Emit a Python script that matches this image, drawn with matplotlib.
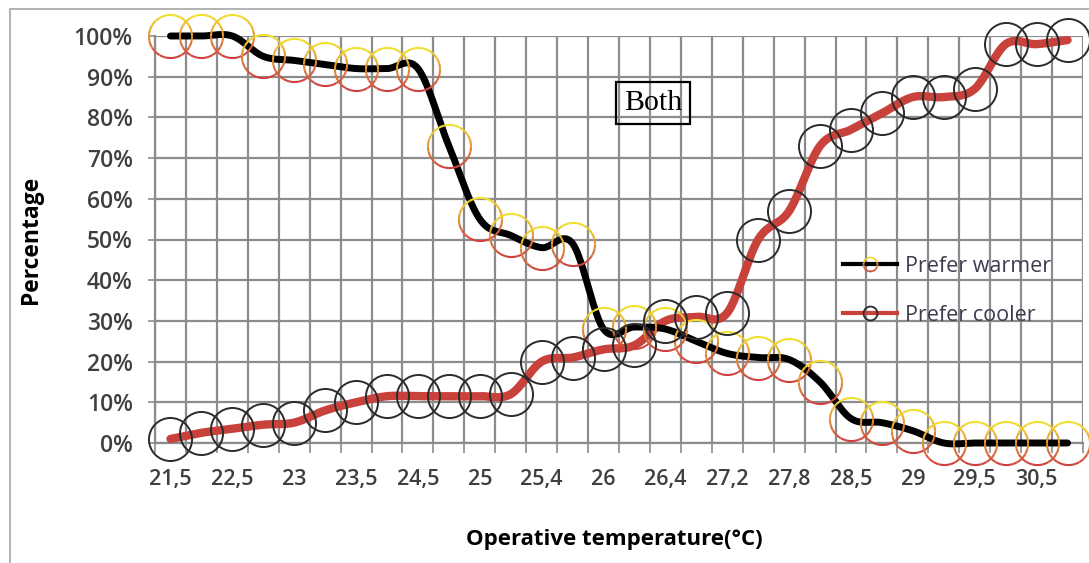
import numpy as np
import matplotlib
matplotlib.use("Agg")
import matplotlib.pyplot as plt
from matplotlib.path import Path
from matplotlib.lines import Line2D
from matplotlib.patches import Rectangle
from matplotlib.colors import to_rgb
from matplotlib.legend_handler import HandlerTuple

# temperature labels shown under every second category
tick_labels = ["21,5", "22,5", "23", "23,5", "24,5", "25", "25,4", "26",
               "26,4", "27,2", "27,8", "28,5", "29", "29,5", "30,5"]
n_cat = 30

# share of occupants (%) per temperature step
prefer_warmer = [100, 100, 100, 95, 94, 93, 92, 92, 92, 73,
                 55, 51, 48, 49, 28, 28.5, 28, 25, 22, 21,
                 20.5, 15, 6, 5, 3, 0, 0, 0, 0, 0]
prefer_cooler = [1, 2.5, 3.5, 4.5, 5, 8, 10, 11.5, 11.5, 11.5,
                 11.5, 12, 20, 21, 23, 24, 30, 31, 32, 50,
                 57, 73, 77, 81, 85, 85, 87, 98, 98, 99]

RED = "#c9413b"
GRID = "#8c8c8c"
TXT = "#3f3f3f"
plt.rcParams["font.family"] = ["Open Sans", "DejaVu Sans"]


def smooth(x, y, n=24):
    # bezier smoothing like a spreadsheet "smoothed line"
    pts = np.column_stack([x, y]).astype(float)
    P = np.vstack([pts[0], pts, pts[-1]])
    t = np.linspace(0, 1, n, endpoint=False)[:, None]
    segs = []
    for i in range(len(pts) - 1):
        p0, p1, p2, p3 = P[i], P[i + 1], P[i + 2], P[i + 3]
        c1 = p1 + (p2 - p0) / 6
        c2 = p2 - (p3 - p1) / 6
        segs.append((1 - t) ** 3 * p1 + 3 * (1 - t) ** 2 * t * c1
                    + 3 * (1 - t) * t ** 2 * c2 + t ** 3 * p2)
    segs.append(pts[-1:])
    out = np.vstack(segs)
    return out[:, 0], out[:, 1]


def ring_band(a0, a1):
    # right arc a0..a1 (deg) plus its mirror on the left side
    a = np.radians(np.linspace(a0, a1, 12))
    right = np.column_stack([np.cos(a), np.sin(a)])
    left = np.column_stack([-np.cos(a), np.sin(a)])
    verts = np.vstack([[1.0, 0.0], right, left])
    codes = ([Path.MOVETO] + [Path.MOVETO] + [Path.LINETO] * 11
             + [Path.MOVETO] + [Path.LINETO] * 11)
    return Path(verts, codes)


# yellow-to-red ring split into horizontal bands
yellow = np.array(to_rgb("#f2e12e"))
red = np.array(to_rgb("#cf3f3f"))
edges = np.linspace(-90, 90, 13)
bands = []
for a0, a1 in zip(edges[:-1], edges[1:]):
    h = (np.sin(np.radians((a0 + a1) / 2)) + 1) / 2
    bands.append((ring_band(a0, a1), tuple(red + (yellow - red) * h)))

fig = plt.figure(figsize=(10.89, 5.63), dpi=100)
ax = fig.add_axes([155 / 1089, 1 - 443 / 563, (1083 - 155) / 1089, (443 - 36) / 563])

x = np.arange(n_cat)
yw = np.array(prefer_warmer) / 100
yc = np.array(prefer_cooler) / 100

sx, sy = smooth(x, yc)
ax.plot(sx, sy, color=RED, lw=6, solid_capstyle="round", zorder=3, clip_on=False)
sx, sy = smooth(x, yw)
ax.plot(sx, sy, color="black", lw=5, solid_capstyle="round", zorder=4, clip_on=False)

MS = 31
for path, col in bands:
    ax.plot(x, yw, ls="none", marker=path, ms=MS, mec=col, mfc="none", mew=1.5,
            zorder=5, clip_on=False)
ax.plot(x, yc, ls="none", marker="o", ms=MS, mec="#2b2b2b", mfc="none", mew=1.4,
        zorder=6, clip_on=False)

ax.set_xlim(-0.5, n_cat - 0.5)
ax.set_ylim(0, 1)
ax.set_yticks(np.arange(0, 1.01, 0.1))
ax.set_yticklabels([f"{int(round(v * 100))}%" for v in np.arange(0, 1.01, 0.1)])
ax.set_xticks(np.arange(0, n_cat, 2))
ax.set_xticklabels(tick_labels)
ax.set_xticks(np.arange(-0.5, n_cat, 1), minor=True)

ax.grid(True, which="minor", axis="x", color=GRID, lw=1.6)
ax.grid(True, which="major", axis="y", color=GRID, lw=1.6)
ax.set_axisbelow(True)
for s in ax.spines.values():
    s.set_visible(False)
for side in ("left", "bottom"):
    ax.spines[side].set_visible(True)
    ax.spines[side].set_color(GRID)
    ax.spines[side].set_linewidth(1.6)

ax.tick_params(axis="y", length=5, width=1.2, color=GRID, pad=11,
               labelsize=16.5, labelcolor=TXT)
ax.tick_params(axis="x", which="major", length=0, pad=19,
               labelsize=15.5, labelcolor=TXT)
ax.tick_params(axis="x", which="minor", length=7, width=1.2, color=GRID)
for lab in ax.get_xticklabels() + ax.get_yticklabels():
    lab.set_fontweight("semibold")

fig.text(31 / 1089, 1 - 240 / 563, "Percentage", rotation=90, ha="center",
         va="center", fontsize=16.5, fontweight="bold", color="black")
fig.text(614 / 1089, 1 - 539 / 563, "Operative temperature(°C)", ha="center",
         va="center", fontsize=16, fontweight="bold", color="black")

fig.text(653 / 1089, 1 - 103 / 563, "Both", ha="center", va="center",
         fontsize=21.5, family=["Liberation Serif", "DejaVu Serif"], color="black",
         bbox=dict(boxstyle="square,pad=0.28", fc="none", ec="black", lw=1.6))

# legend with small versions of the markers
warm_parts = [Line2D([], [], color="black", lw=3)]
for path, col in bands:
    warm_parts.append(Line2D([], [], ls="none", marker=path, ms=10, mec=col,
                             mfc="none", mew=1.3))
cool_parts = (Line2D([], [], color=RED, lw=3),
              Line2D([], [], ls="none", marker="o", ms=10, mec="#2b2b2b",
                     mfc="none", mew=1.3))
ax.legend([tuple(warm_parts), cool_parts], ["Prefer warmer", "Prefer cooler"],
          handler_map={tuple: HandlerTuple(ndivide=1)},
          loc="upper left", bbox_to_anchor=(843 / 1089, 1 - 256 / 563),
          bbox_transform=fig.transFigure, frameon=False, fontsize=15.5,
          labelcolor="#3d3d4f", handlelength=2.5, handletextpad=0.4,
          labelspacing=1.3, borderpad=0, borderaxespad=0, numpoints=1)

# outer chart border
fig.patches.append(Rectangle((10 / 1089, -0.05), 1.2, 1 - 9 / 563 + 0.05,
                             transform=fig.transFigure, fill=False,
                             ec="#a6a6a6", lw=1.2))

fig.savefig("out.png", dpi=100)
